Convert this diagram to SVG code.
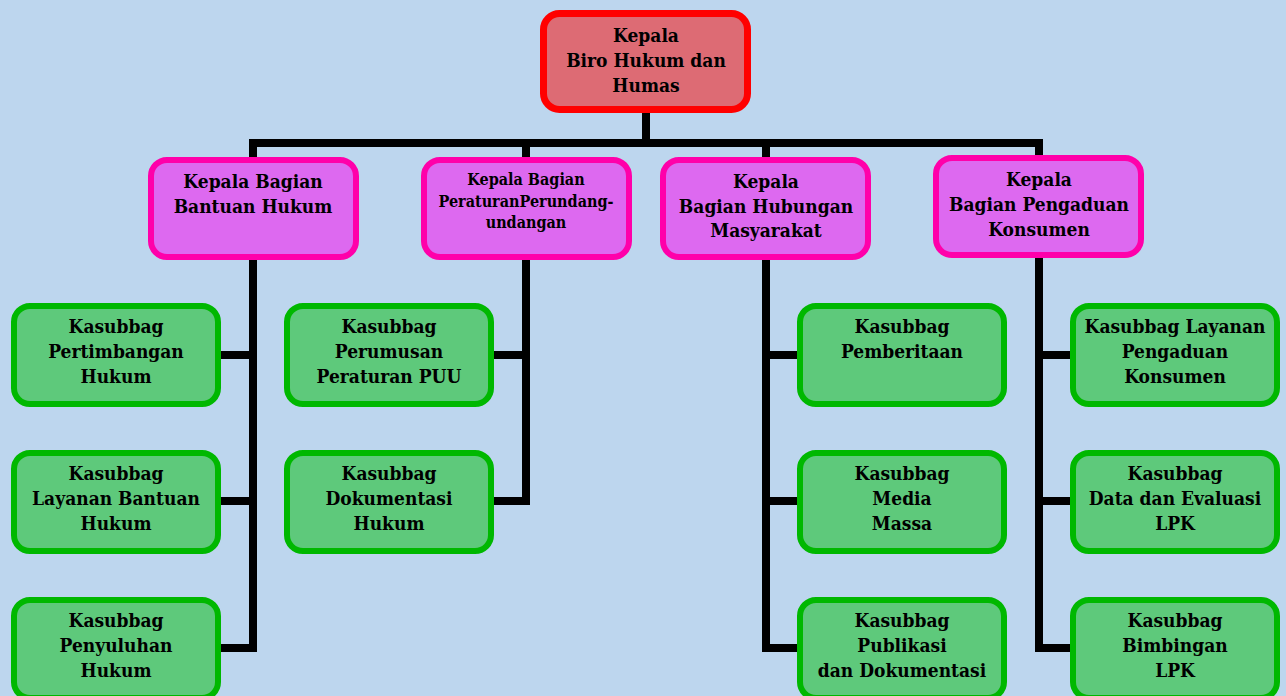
<svg xmlns="http://www.w3.org/2000/svg" width="1286" height="696" viewBox="0 0 1286 696">
<style>
.bg{fill:#bdd6ee}
.top{fill:#dd6b74;stroke:#ff0000;stroke-width:7}
.head{fill:#dd69f0;stroke:#ff00aa;stroke-width:6}
.sub{fill:#5ec97b;stroke:#00b800;stroke-width:6}
.conn{fill:none;stroke:#000;stroke-width:8;stroke-linejoin:miter;stroke-linecap:square}
text{font-family:"DejaVu Serif Condensed","DejaVu Serif","Liberation Serif",serif;font-weight:bold;font-size:19px;fill:#000;text-anchor:middle}
.sm{font-size:16px}
</style>
<rect class="bg" x="0" y="0" width="1286" height="696"/>
<g id="connectors">
<path class="conn" d="M646 113 V143"/>
<path class="conn" d="M253 159 V143 H1039 V157"/>
<path class="conn" d="M526 143 V159"/>
<path class="conn" d="M766 143 V159"/>
<path class="conn" d="M253 262 V648 H223"/>
<path class="conn" d="M253 355 H223"/>
<path class="conn" d="M253 501 H223"/>
<path class="conn" d="M526 262 V501 H496"/>
<path class="conn" d="M526 355 H496"/>
<path class="conn" d="M766 262 V648 H796"/>
<path class="conn" d="M766 355 H796"/>
<path class="conn" d="M766 501 H796"/>
<path class="conn" d="M1039 260 V648 H1069"/>
<path class="conn" d="M1039 355 H1069"/>
<path class="conn" d="M1039 501 H1069"/>
</g>
<g id="kepala-biro">
<rect class="top" x="543.5" y="13.5" width="204" height="96" rx="16"/>
<text x="646" y="42">Kepala</text>
<text x="646" y="67">Biro Hukum dan</text>
<text x="646" y="92">Humas</text>
</g>
<g id="bagian-bantuan-hukum">
<rect class="head" x="151" y="160" width="205" height="97" rx="16"/>
<text x="253" y="188">Kepala Bagian</text>
<text x="253" y="213">Bantuan Hukum</text>
</g>
<g id="bagian-peraturan">
<rect class="head" x="424" y="160" width="205" height="97" rx="16"/>
<text class="sm" x="526" y="185">Kepala Bagian</text>
<text class="sm" x="526" y="207">PeraturanPerundang-</text>
<text class="sm" x="526" y="228">undangan</text>
</g>
<g id="bagian-humas">
<rect class="head" x="663" y="160" width="205" height="97" rx="16"/>
<text x="766" y="188">Kepala</text>
<text x="766" y="213">Bagian Hubungan</text>
<text x="766" y="237">Masyarakat</text>
</g>
<g id="bagian-pengaduan">
<rect class="head" x="936" y="158" width="205" height="97" rx="16"/>
<text x="1039" y="186">Kepala</text>
<text x="1039" y="211">Bagian Pengaduan</text>
<text x="1039" y="236">Konsumen</text>
</g>
<g id="sub-pertimbangan">
<rect class="sub" x="14" y="306" width="204" height="98" rx="16"/>
<text x="116" y="333">Kasubbag</text>
<text x="116" y="358">Pertimbangan</text>
<text x="116" y="383">Hukum</text>
</g>
<g id="sub-layanan-bantuan">
<rect class="sub" x="14" y="453" width="204" height="98" rx="16"/>
<text x="116" y="480">Kasubbag</text>
<text x="116" y="505">Layanan Bantuan</text>
<text x="116" y="530">Hukum</text>
</g>
<g id="sub-penyuluhan">
<rect class="sub" x="14" y="600" width="204" height="98" rx="16"/>
<text x="116" y="627">Kasubbag</text>
<text x="116" y="652">Penyuluhan</text>
<text x="116" y="677">Hukum</text>
</g>
<g id="sub-perumusan">
<rect class="sub" x="287" y="306" width="204" height="98" rx="16"/>
<text x="389" y="333">Kasubbag</text>
<text x="389" y="358">Perumusan</text>
<text x="389" y="383">Peraturan PUU</text>
</g>
<g id="sub-dokumentasi-hukum">
<rect class="sub" x="287" y="453" width="204" height="98" rx="16"/>
<text x="389" y="480">Kasubbag</text>
<text x="389" y="505">Dokumentasi</text>
<text x="389" y="530">Hukum</text>
</g>
<g id="sub-pemberitaan">
<rect class="sub" x="800" y="306" width="204" height="98" rx="16"/>
<text x="902" y="333">Kasubbag</text>
<text x="902" y="358">Pemberitaan</text>
</g>
<g id="sub-media-massa">
<rect class="sub" x="800" y="453" width="204" height="98" rx="16"/>
<text x="902" y="480">Kasubbag</text>
<text x="902" y="505">Media</text>
<text x="902" y="530">Massa</text>
</g>
<g id="sub-publikasi">
<rect class="sub" x="800" y="600" width="204" height="98" rx="16"/>
<text x="902" y="627">Kasubbag</text>
<text x="902" y="652">Publikasi</text>
<text x="902" y="677">dan Dokumentasi</text>
</g>
<g id="sub-layanan-pengaduan">
<rect class="sub" x="1073" y="306" width="204" height="98" rx="16"/>
<text x="1175" y="333">Kasubbag Layanan</text>
<text x="1175" y="358">Pengaduan</text>
<text x="1175" y="383">Konsumen</text>
</g>
<g id="sub-data-evaluasi">
<rect class="sub" x="1073" y="453" width="204" height="98" rx="16"/>
<text x="1175" y="480">Kasubbag</text>
<text x="1175" y="505">Data dan Evaluasi</text>
<text x="1175" y="530">LPK</text>
</g>
<g id="sub-bimbingan">
<rect class="sub" x="1073" y="600" width="204" height="98" rx="16"/>
<text x="1175" y="627">Kasubbag</text>
<text x="1175" y="652">Bimbingan</text>
<text x="1175" y="677">LPK</text>
</g>
</svg>
